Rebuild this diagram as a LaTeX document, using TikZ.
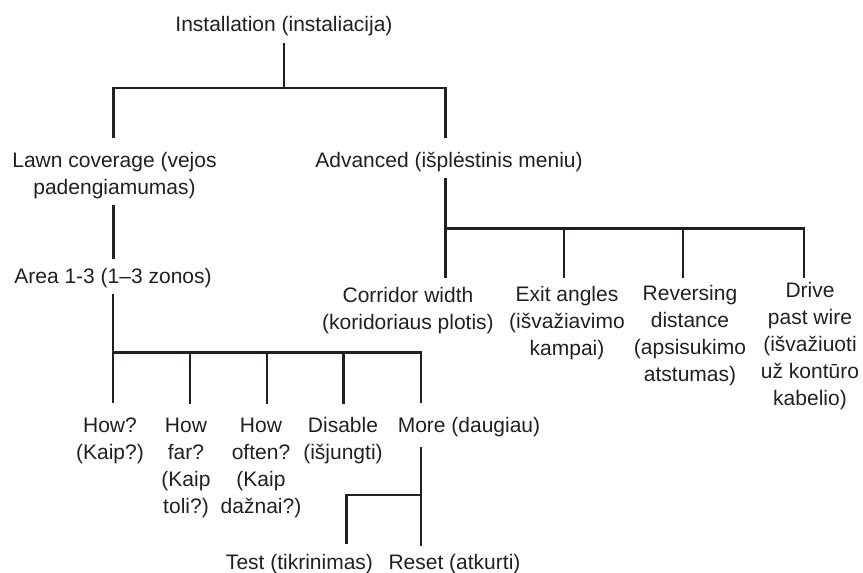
\documentclass[tikz,border=0pt]{standalone}
\usepackage{fontspec}
\setmainfont{Liberation Sans}
\usetikzlibrary{calc}
\definecolor{ink}{RGB}{35,31,32}
\tikzset{lbl/.style={anchor=base,align=center,inner sep=0pt,text=ink,font=\fontsize{10.5}{13.5}\selectfont},
 wire/.style={draw=ink,line width=1.4pt}}

\begin{document}
\begin{tikzpicture}[x=0.5pt,y=-0.5pt]
\useasboundingbox (0,0) rectangle (863,573);
\node[lbl](inst) at(284,32){Installation (instaliacija)};
\node[lbl](lawn) at(114.5,194){Lawn coverage (vejos\\padengiamumas)};
\node[lbl](adv) at(449,167){Advanced (išplėstinis meniu)};
\node[lbl](area) at(113,283){Area 1-3 (1–3 zonos)};
\node[lbl](corr) at(408,329){Corridor width\\(koridoriaus plotis)};
\node[lbl](exit) at(567,355){Exit angles\\(išvažiavimo\\kampai)};
\node[lbl](rev) at(690,381){Reversing\\distance\\(apsisukimo\\atstumas)};
\node[lbl](drive) at(810,405){Drive\\past wire\\(išvažiuoti\\už kontūro\\kabelio)};
\node[lbl](how) at(110,459){How?\\(Kaip?)};
\node[lbl](far) at(186,513){How\\far?\\(Kaip\\toli?)};
\node[lbl](often) at(261,513){How\\often?\\(Kaip\\dažnai?)};
\node[lbl](dis) at(343,459){Disable\\(išjungti)};
\node[lbl](more) at(469,432){More (daugiau)};
\node[lbl](test) at(299.5,569){Test (tikrinimas)};
\node[lbl](reset) at(454.5,569){Reset (atkurti)};
\coordinate(inst-b) at(284,43);\coordinate(bar1) at(284,88);
\coordinate(lawn-t) at(113.5,138);\coordinate(lawn-b) at(113.5,205);
\coordinate(adv-t) at(445.5,138);\coordinate(adv-b) at(445.5,178);
\coordinate(area-t) at(113.5,259);\coordinate(area-b) at(113,294);
\coordinate(bar2) at(445.5,228.3);\coordinate(corr-t) at(445.5,278);
\coordinate(exit-t) at(564,278);\coordinate(rev-t) at(683,278);\coordinate(drive-t) at(804,278);
\coordinate(bar3) at(113,352.7);\coordinate(how-t) at(113,403);
\coordinate(far-t) at(190,404);\coordinate(often-t) at(267,404);\coordinate(dis-t) at(343.3,404);
\coordinate(more-t) at(421,403);\coordinate(more-b) at(421,446.7);
\coordinate(bar4) at(421,495);\coordinate(test-t) at(346.7,543.5);\coordinate(reset-t) at(421,546);
\draw[wire](inst-b)--(bar1)(lawn-t)--(lawn-t|-bar1)--(adv-t|-bar1)--(adv-t);
\draw[wire](lawn-b)--(area-t);
\draw[wire](adv-b)--(corr-t)(bar2)--(drive-t|-bar2)--(drive-t)(exit-t|-bar2)--(exit-t)(rev-t|-bar2)--(rev-t);
\draw[wire](area-b)--(how-t)(bar3)--(more-t|-bar3)--(more-t)(far-t|-bar3)--(far-t)
 (often-t|-bar3)--(often-t)(dis-t|-bar3)--(dis-t);
\draw[wire](more-b)--(reset-t)(bar4)--(test-t|-bar4)--(test-t);
\end{tikzpicture}
\end{document}
